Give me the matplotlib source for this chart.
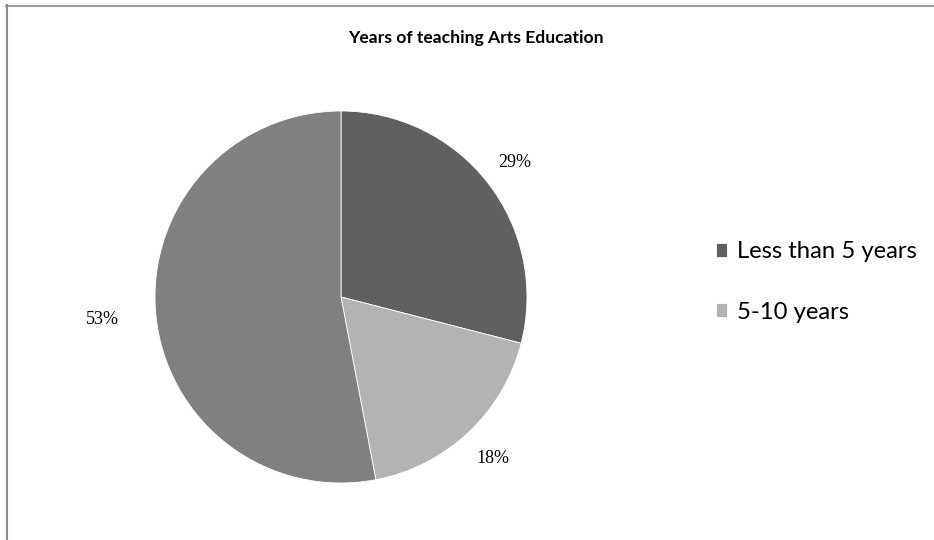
import numpy as np
import matplotlib.pyplot as plt
from matplotlib.lines import Line2D

categories = ['Less than 5 years', '5-10 years', 'More than 10 years']
shares = [29, 18, 53]
colors = ['#606060', '#b3b3b3', '#808080']
label_dist = [1.18, 1.19, 1.29]
shown_in_legend = 2

W, H = 934, 540
fig = plt.figure(figsize=(W / 100, H / 100), dpi=100)

# pie sits in a square axes, centre (341, 297) px from top-left, radius 186 px
cx, cy, r = 341, 297, 186
ax = fig.add_axes([(cx - r) / W, (H - cy - r) / H, 2 * r / W, 2 * r / H])
wedges, _ = ax.pie(shares, colors=colors, startangle=90, counterclock=False,
                   radius=1, wedgeprops=dict(edgecolor='white', linewidth=0.6))
ax.set_xlim(-1, 1)
ax.set_ylim(-1, 1)
ax.axis('off')

for w, v, d in zip(wedges, shares, label_dist):
    ang = np.deg2rad((w.theta1 + w.theta2) / 2)
    ax.text(d * np.cos(ang), d * np.sin(ang), f'{v}%', ha='center', va='center',
            fontsize=13, family='Liberation Serif', color='#000000')

fig.text(476 / W, 1 - 38 / H, 'Years of teaching Arts Education', ha='center',
         va='center', fontsize=12.6, fontweight='bold', family='Lato')

fig.legend(wedges[:shown_in_legend], categories[:shown_in_legend],
           loc='center left', bbox_to_anchor=(694 / W, 1 - 282 / H),
           frameon=False, prop={'family': 'Lato', 'size': 17.2},
           handlelength=0.5, handleheight=0.5, handletextpad=0.4,
           labelspacing=1.65)

# frame edges on the left and top
fig.add_artist(Line2D([6.5 / W, 6.5 / W], [0, 1 - 5 / H], color='#8a8a8a', lw=1.5))
fig.add_artist(Line2D([6 / W, 1], [1 - 5.5 / H, 1 - 5.5 / H], color='#8a8a8a', lw=1.2))

fig.savefig('out.png', dpi=100)
